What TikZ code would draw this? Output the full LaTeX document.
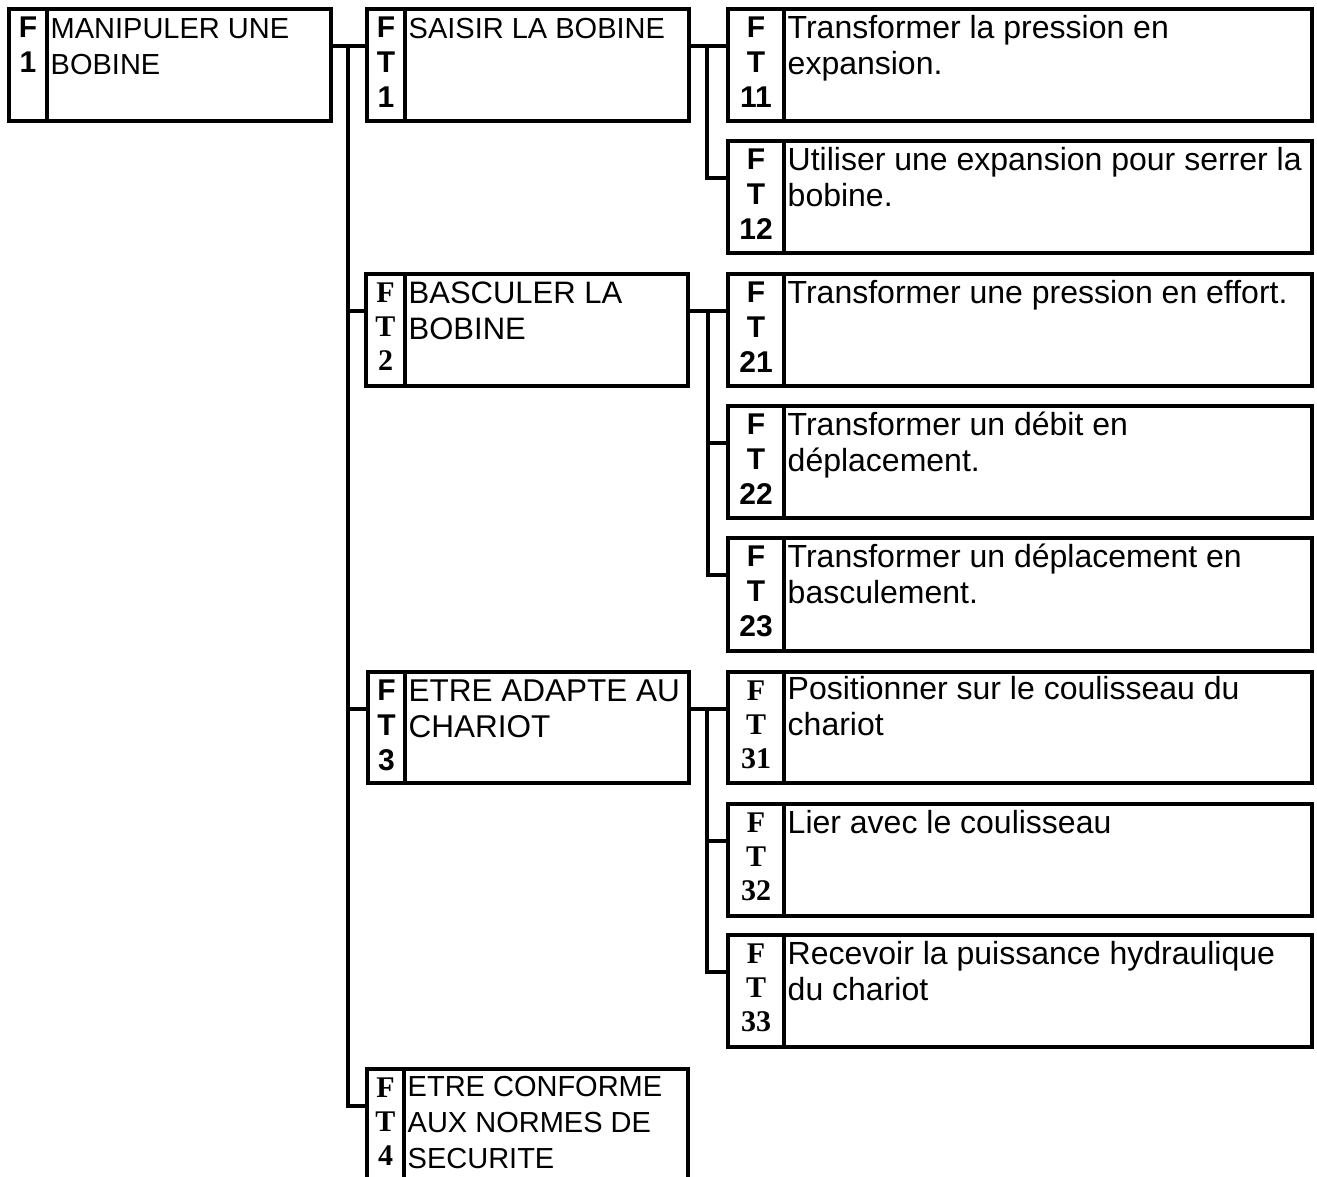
\documentclass[tikz,border=0pt]{standalone}
\usepackage{fontspec}
\setmainfont{Liberation Sans}
\newfontfamily\timesfont{Liberation Serif}
\usetikzlibrary{calc}

\tikzset{
  fnframe/.style={draw, line width=3.5pt, rectangle, inner sep=0pt, outer sep=0pt, anchor=north west},
  divider/.style={line width=3.5pt},
  wire/.style={line width=3.5pt},
  lblsans/.style={anchor=north, align=center, inner sep=0pt, font=\fontsize{30}{35}\selectfont\bfseries},
  lblserif/.style={anchor=north, align=center, inner sep=0pt, font=\fontsize{30}{34}\selectfont\timesfont\bfseries},
  txt/.style={anchor=north west, align=left, inner sep=0pt},
}

% box: name, left, top, right, bottom, divider x
\newcommand\fnbox[6]{%
  \node[fnframe, minimum width={#4pt-#2pt}, minimum height={#5pt-#3pt}] (#1) at (#2,#3) {};
  \draw[divider] (#6,#3) -- (#6,#5);
}
% label column: name, left, divider x, top, style, lines
\newcommand\fnlabel[6]{%
  \node[#5] (#1-lbl) at ({(#2+#3)/2},{#4+3}) {\rule{0pt}{25pt}#6};
}
% function text: name, divider x, top, font size, lines
\newcommand\fntext[5]{%
  \node[txt, font=\fontsize{#4}{36}\selectfont] (#1-txt) at ({#2+3.5},{#3+4}) {\rule{0pt}{25pt}#5};
}

\begin{document}
\begin{tikzpicture}[x=1pt, y=-1pt]
\useasboundingbox (0,0) rectangle (1317,1177);
\clip (0,0) rectangle (1317,1177);

% main function
\fnbox{f1}{9}{9}{331}{121}{47}
\fnlabel{f1}{9}{47}{9}{lblsans}{F\\1}
\fntext{f1}{47}{9}{29}{MANIPULER UNE\\BOBINE}

% technical functions, first level
\fnbox{ft1}{367}{9}{689}{121}{405}
\fnlabel{ft1}{367}{405}{9}{lblsans}{F\\T\\1}
\fntext{ft1}{405}{9}{29}{SAISIR LA BOBINE}

\fnbox{ft2}{366}{274}{688}{386}{405}
\fnlabel{ft2}{366}{405}{274}{lblserif}{F\\T\\2}
\fntext{ft2}{405}{274}{31}{BASCULER LA\\BOBINE}

\fnbox{ft3}{368}{672}{689}{783}{405}
\fnlabel{ft3}{368}{405}{672}{lblsans}{F\\T\\3}
\fntext{ft3}{405}{672}{31.5}{ETRE ADAPTE AU\\CHARIOT}

\fnbox{ft4}{367}{1069}{688}{1210}{404}
\fnlabel{ft4}{367}{404}{1069}{lblserif}{F\\T\\4}
\fntext{ft4}{404}{1067}{29}{ETRE CONFORME\\AUX NORMES DE\\SECURITE}

% technical functions, second level
\fnbox{ft11}{728}{9}{1312}{121}{784}
\fnlabel{ft11}{728}{784}{9}{lblsans}{F\\T\\11}
\fntext{ft11}{784}{9}{32}{Transformer la pression en\\expansion.}

\fnbox{ft12}{728}{141}{1312}{253}{784}
\fnlabel{ft12}{728}{784}{141}{lblsans}{F\\T\\12}
\fntext{ft12}{784}{141}{32}{Utiliser une expansion pour serrer la\\bobine.}

\fnbox{ft21}{728}{274}{1312}{386}{784}
\fnlabel{ft21}{728}{784}{274}{lblsans}{F\\T\\21}
\fntext{ft21}{784}{274}{32}{Transformer une pression en effort.}

\fnbox{ft22}{728}{406}{1312}{518}{784}
\fnlabel{ft22}{728}{784}{406}{lblsans}{F\\T\\22}
\fntext{ft22}{784}{406}{32}{Transformer un débit en\\déplacement.}

\fnbox{ft23}{728}{538}{1312}{651}{784}
\fnlabel{ft23}{728}{784}{538}{lblsans}{F\\T\\23}
\fntext{ft23}{784}{538}{32}{Transformer un déplacement en\\basculement.}

\fnbox{ft31}{728}{672}{1312}{783}{784}
\fnlabel{ft31}{728}{784}{672}{lblserif}{F\\T\\31}
\fntext{ft31}{784}{670}{32}{Positionner sur le coulisseau du\\chariot}

\fnbox{ft32}{728}{804}{1312}{916}{784}
\fnlabel{ft32}{728}{784}{804}{lblserif}{F\\T\\32}
\fntext{ft32}{784}{804}{32}{Lier avec le coulisseau}

\fnbox{ft33}{728}{935}{1312}{1047}{784}
\fnlabel{ft33}{728}{784}{935}{lblserif}{F\\T\\33}
\fntext{ft33}{784}{935}{32}{Recevoir la puissance hydraulique\\du chariot}

% entry points of the branches
\foreach \n in {ft1,ft2,ft3,ft4,ft11,ft12,ft21,ft22,ft23,ft31,ft32,ft33}
  \coordinate (\n-in) at ($(\n.north west)+(0,37)$);

% bus lines
\coordinate (bus0) at (348,0);
\coordinate (bus1) at (707,0);
\coordinate (bus2) at (708,0);
\coordinate (bus3) at (707,0);

% F1 -> FT1..FT4
\draw[wire] (f1.east |- ft1-in) -- (ft1-in);
\draw[wire] (bus0 |- ft1-in) |- (ft4-in);
\draw[wire] (bus0 |- ft2-in) -- (ft2-in);
\draw[wire] (bus0 |- ft3-in) -- (ft3-in);

% FT1 -> FT11, FT12
\draw[wire] (ft1.east |- ft11-in) -- (ft11-in);
\draw[wire] (bus1 |- ft11-in) |- (ft12-in);

% FT2 -> FT21..FT23
\draw[wire] (ft2.east |- ft21-in) -- (ft21-in);
\draw[wire] (bus2 |- ft21-in) |- (ft23-in);
\draw[wire] (bus2 |- ft22-in) -- (ft22-in);

% FT3 -> FT31..FT33
\draw[wire] (ft3.east |- ft31-in) -- (ft31-in);
\draw[wire] (bus3 |- ft31-in) |- (ft33-in);
\draw[wire] (bus3 |- ft32-in) -- (ft32-in);
\end{tikzpicture}
\end{document}
